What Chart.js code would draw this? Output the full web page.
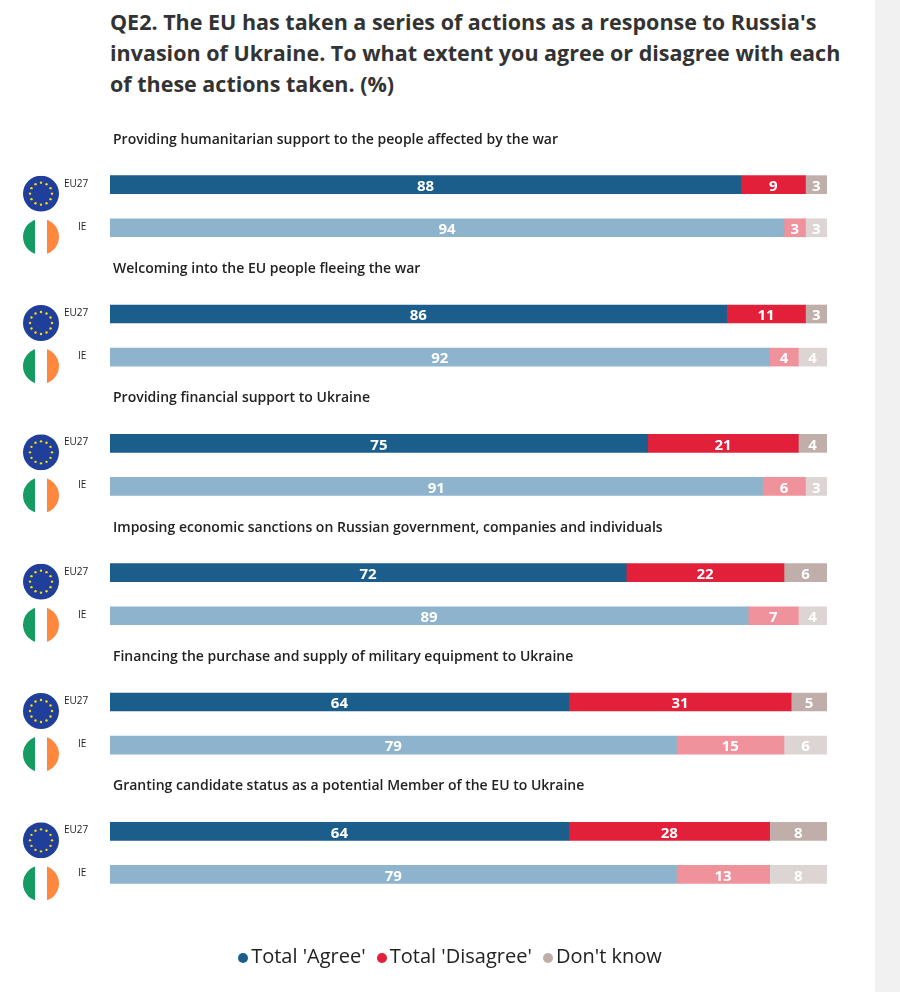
<!DOCTYPE html>
<html lang="en">
<head>
<meta charset="UTF-8">
<title>QE2</title>
<script src="https://cdn.jsdelivr.net/npm/chart.js"></script>
<style>
  body { margin: 0; background: #fff; font-family: "Open Sans", "Noto Sans", sans-serif; }
  #wrap { position: relative; width: 900px; height: 992px; overflow: hidden; }
  #strip { position: absolute; left: 875px; top: 0; width: 25px; height: 992px; background: #f1f1f1; }
  h1 { position: absolute; left: 110px; top: 6px; margin: 0; width: 740px; font-size: 21.5px; line-height: 31px; color: #333; font-weight: 700; }
  #chart { position: absolute; left: 0; top: 0; }
  #legend { position: absolute; top: 942px; left: 0; width: 900px; text-align: center; font-size: 20px; color: #222; }
  #legend span { margin: 0 3px; }
  .dot { display: inline-block; width: 10px; height: 10px; border-radius: 50%; margin-right: 3px; }
</style>
</head>
<body>
<div id="wrap">
  <div id="strip"></div>
  <h1>QE2. The EU has taken a series of actions as a response to Russia's invasion of Ukraine. To what extent you agree or disagree with each of these actions taken. (%)</h1>
  <canvas id="chart" width="900" height="992"></canvas>
  <div id="legend">
    <span><i class="dot" style="background:#1b5e8c"></i>Total 'Agree'</span>
    <span><i class="dot" style="background:#e3203a"></i>Total 'Disagree'</span>
    <span><i class="dot" style="background:#bfaeaa"></i>Don't know</span>
  </div>
</div>
<script>
const questions = [
  'Providing humanitarian support to the people affected by the war',
  'Welcoming into the EU people fleeing the war',
  'Providing financial support to Ukraine',
  'Imposing economic sanctions on Russian government, companies and individuals',
  'Financing the purchase and supply of military equipment to Ukraine',
  'Granting candidate status as a potential Member of the EU to Ukraine'
];
const euAgree = [88, 86, 75, 72, 64, 64];
const euDisagree = [9, 11, 21, 22, 31, 28];
const euDontKnow = [3, 3, 4, 6, 5, 8];
const ieAgree = [94, 92, 91, 89, 79, 79];
const ieDisagree = [3, 4, 6, 7, 15, 13];
const ieDontKnow = [3, 4, 3, 4, 6, 8];

// rows: heading, EU27, IE for each question
const labels = [], agree = [], disagree = [], dk = [], kinds = [], names = [];
questions.forEach((q, i) => {
  labels.push('h' + i); names.push(q); kinds.push('h'); agree.push(null); disagree.push(null); dk.push(null);
  labels.push('eu' + i); names.push('EU27'); kinds.push('eu'); agree.push(euAgree[i]); disagree.push(euDisagree[i]); dk.push(euDontKnow[i]);
  labels.push('ie' + i); names.push('IE'); kinds.push('ie'); agree.push(ieAgree[i]); disagree.push(ieDisagree[i]); dk.push(ieDontKnow[i]);
});
const pick = (eu, ie) => kinds.map(k => k === 'ie' ? ie : eu);

const decor = {
  id: 'decor',
  afterDatasetsDraw(chart) {
    const ctx = chart.ctx, y = chart.scales.y;
    ctx.save();
    // values
    chart.data.datasets.forEach((ds, di) => {
      chart.getDatasetMeta(di).data.forEach((bar, i) => {
        const v = ds.data[i];
        if (v == null) return;
        ctx.fillStyle = '#fff';
        ctx.font = 'bold 15px "Open Sans", sans-serif';
        ctx.textAlign = 'center'; ctx.textBaseline = 'middle';
        const cx = di === 2 ? bar.x - (bar.x - bar.base) / 2 : (bar.x + bar.base) / 2;
        ctx.fillText(v, cx, bar.y + 2);
      });
    });
    names.forEach((lab, i) => {
      const py = y.getPixelForValue(i);
      if (kinds[i] === 'h') {
        ctx.fillStyle = '#222'; ctx.font = '600 14px "Open Sans", sans-serif';
        ctx.textAlign = 'left'; ctx.textBaseline = 'middle';
        ctx.fillText(lab, 113, py - 2);
        return;
      }
      ctx.fillStyle = '#222'; ctx.font = '10px "Open Sans", sans-serif';
      ctx.textAlign = 'left'; ctx.textBaseline = 'middle';
      ctx.fillText(lab, kinds[i] === 'eu' ? 64 : 78, py - 1);
      const fx = 41, fy = py + 9, r = 18;
      ctx.save();
      ctx.beginPath(); ctx.arc(fx, fy, r, 0, Math.PI * 2); ctx.clip();
      if (kinds[i] === 'eu') {
        ctx.fillStyle = '#1f3f9a'; ctx.fillRect(fx - r, fy - r, 2 * r, 2 * r);
        ctx.fillStyle = '#ffdd00';
        for (let s = 0; s < 12; s++) {
          const a = s * Math.PI / 6;
          ctx.beginPath(); ctx.arc(fx + Math.cos(a) * 11, fy + Math.sin(a) * 11, 1.2, 0, Math.PI * 2); ctx.fill();
        }
      } else {
        ctx.fillStyle = '#169b62'; ctx.fillRect(fx - r, fy - r, 2 * r / 3, 2 * r);
        ctx.fillStyle = '#ffffff'; ctx.fillRect(fx - r / 3, fy - r, 2 * r / 3, 2 * r);
        ctx.fillStyle = '#ff883e'; ctx.fillRect(fx + r / 3, fy - r, 2 * r / 3, 2 * r);
      }
      ctx.restore();
    });
    ctx.restore();
  }
};

new Chart(document.getElementById('chart'), {
  type: 'bar',
  data: {
    labels: labels,
    datasets: [
      { label: "Total 'Agree'", data: agree, backgroundColor: pick('#1b5e8c', '#8db3cd') },
      { label: "Total 'Disagree'", data: disagree, backgroundColor: pick('#e3203a', '#f0929c') },
      { label: "Don't know", data: dk, backgroundColor: pick('#bfaeaa', '#ddd5d3') }
    ]
  },
  options: {
    indexAxis: 'y',
    responsive: false,
    animation: false,
    devicePixelRatio: 1,
    layout: { padding: { left: 110, right: 73, top: 120, bottom: 96 } },
    datasets: { bar: { barThickness: 18 } },
    scales: {
      x: { stacked: true, min: 0, max: 100, display: false },
      y: { stacked: true, display: false }
    },
    plugins: { legend: { display: false }, tooltip: { enabled: false } }
  },
  plugins: [decor]
});
</script>
</body>
</html>
